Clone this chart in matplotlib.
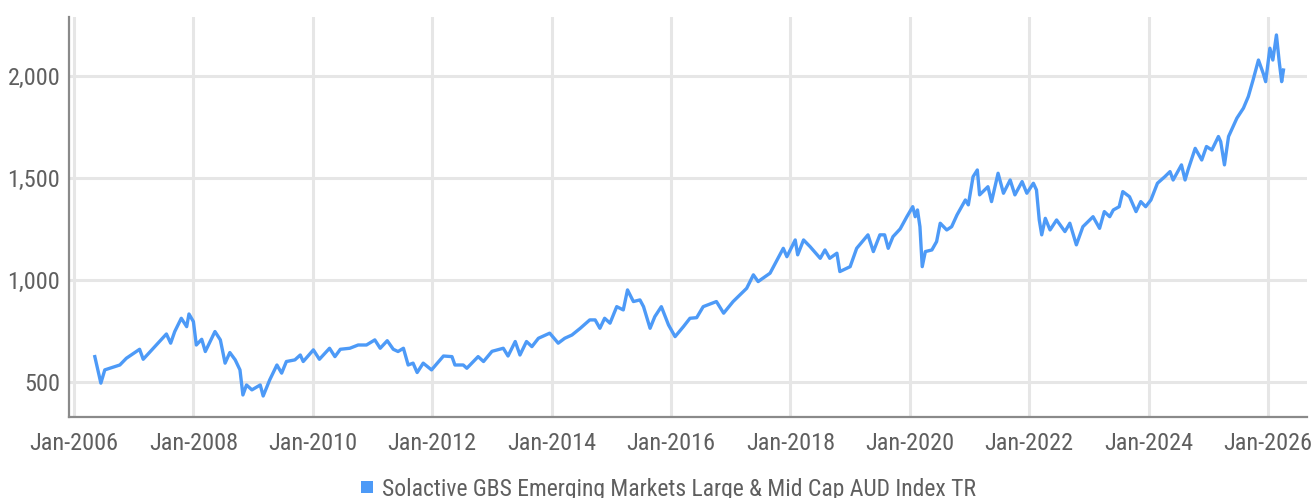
import matplotlib
matplotlib.use("Agg")
import matplotlib.pyplot as plt
import matplotlib.dates as mdates
from matplotlib import font_manager as fm
from matplotlib.lines import Line2D
from matplotlib.ticker import FuncFormatter
import pandas as pd

series_name = "Solactive GBS Emerging Markets Large & Mid Cap AUD Index TR"

dates = [
    "2006-05-08", "2006-06-14", "2006-07-08", "2006-08-07", "2006-10-08", "2006-11-17",
    "2007-02-06", "2007-02-28", "2007-05-19", "2007-07-20", "2007-08-15", "2007-09-09",
    "2007-10-19", "2007-11-21", "2007-12-05", "2008-01-01", "2008-01-19", "2008-02-21",
    "2008-03-14", "2008-05-12", "2008-06-14", "2008-07-13", "2008-08-11", "2008-09-13",
    "2008-10-12", "2008-10-30", "2008-11-21", "2008-12-24", "2009-02-13", "2009-03-03",
    "2009-04-12", "2009-05-26", "2009-06-24", "2009-07-23", "2009-09-13", "2009-10-16",
    "2009-11-03", "2010-01-04", "2010-02-10", "2010-04-13", "2010-05-16", "2010-06-18",
    "2010-08-15", "2010-10-05", "2010-11-25", "2011-01-15", "2011-02-17", "2011-04-01",
    "2011-05-08", "2011-06-06", "2011-07-09", "2011-08-07", "2011-09-06", "2011-10-01",
    "2011-11-07", "2011-12-28", "2012-03-10", "2012-05-01", "2012-05-19", "2012-07-09",
    "2012-07-31", "2012-10-08", "2012-11-10", "2013-01-01", "2013-03-11", "2013-04-09",
    "2013-05-23", "2013-06-21", "2013-07-31", "2013-09-02", "2013-10-12", "2013-12-20",
    "2014-02-10", "2014-03-22", "2014-05-05", "2014-06-25", "2014-08-22", "2014-09-24",
    "2014-10-23", "2014-11-21", "2014-12-24", "2015-02-03", "2015-03-15", "2015-04-10",
    "2015-05-16", "2015-06-25", "2015-07-17", "2015-08-26", "2015-09-24", "2015-11-03",
    "2015-12-17", "2016-01-26", "2016-03-17", "2016-04-26", "2016-06-06", "2016-07-16",
    "2016-10-05", "2016-11-18", "2017-01-15", "2017-04-08", "2017-05-19", "2017-06-17",
    "2017-08-29", "2017-11-18", "2017-12-10", "2018-01-30", "2018-02-14", "2018-03-22",
    "2018-05-01", "2018-07-02", "2018-07-31", "2018-08-29", "2018-10-12", "2018-10-30",
    "2019-01-01", "2019-02-10", "2019-04-20", "2019-05-23", "2019-07-02", "2019-07-31",
    "2019-08-22", "2019-09-20", "2019-11-03", "2019-12-14", "2020-01-19", "2020-02-03",
    "2020-02-17", "2020-03-03", "2020-03-17", "2020-04-05", "2020-05-15", "2020-06-13",
    "2020-07-05", "2020-08-14", "2020-09-13", "2020-10-16", "2020-12-06", "2020-12-24",
    "2021-01-22", "2021-02-17", "2021-03-03", "2021-04-23", "2021-05-15", "2021-06-24",
    "2021-07-27", "2021-09-06", "2021-10-05", "2021-11-18", "2021-12-17", "2022-01-26",
    "2022-02-14", "2022-03-03", "2022-03-18", "2022-04-09", "2022-05-08", "2022-06-17",
    "2022-08-07", "2022-09-06", "2022-10-16", "2022-11-25", "2023-01-26", "2023-03-07",
    "2023-04-05", "2023-05-08", "2023-05-30", "2023-07-05", "2023-07-27", "2023-09-06",
    "2023-10-16", "2023-11-14", "2023-12-14", "2024-01-15", "2024-02-24", "2024-04-09",
    "2024-05-11", "2024-05-30", "2024-07-20", "2024-08-11", "2024-08-29", "2024-10-12",
    "2024-11-21", "2024-12-20", "2025-01-22", "2025-03-03", "2025-03-17", "2025-04-09",
    "2025-05-04", "2025-06-24", "2025-08-03", "2025-09-02", "2025-10-01", "2025-11-03",
    "2025-12-02", "2025-12-17", "2026-01-12", "2026-01-30", "2026-02-21", "2026-03-10",
    "2026-03-25", "2026-04-05",
]

values = [
    624, 494, 559, 567, 583, 616,
    660, 611, 681, 735, 690, 747,
    812, 771, 833, 796, 681, 709,
    649, 747, 706, 592, 644, 608,
    559, 436, 485, 461, 485, 431,
    510, 583, 543, 600, 608, 632,
    600, 657, 611, 665, 624, 660,
    665, 681, 681, 706, 665, 702,
    660, 649, 665, 583, 592, 546,
    592, 559, 627, 624, 583, 583,
    567, 624, 600, 650, 665, 627,
    698, 632, 698, 673, 714, 739,
    690, 714, 730, 763, 804, 804,
    763, 812, 788, 869, 853, 951,
    894, 902, 869, 763, 820, 869,
    779, 722, 771, 812, 815, 869,
    894, 837, 894, 959, 1025, 992,
    1033, 1155, 1114, 1196, 1123, 1196,
    1163, 1106, 1147, 1106, 1131, 1041,
    1065, 1155, 1221, 1139, 1221, 1221,
    1155, 1212, 1250, 1310, 1359, 1310,
    1343, 1261, 1065, 1139, 1147, 1188,
    1278, 1245, 1261, 1319, 1392, 1368,
    1506, 1539, 1417, 1457, 1384, 1523,
    1425, 1490, 1417, 1482, 1425, 1474,
    1441, 1294, 1221, 1302, 1245, 1294,
    1237, 1278, 1172, 1261, 1310, 1253,
    1335, 1310, 1343, 1359, 1433, 1408,
    1335, 1384, 1359, 1392, 1474, 1506,
    1531, 1490, 1564, 1490, 1539, 1645,
    1588, 1654, 1637, 1703, 1678, 1564,
    1703, 1793, 1842, 1899, 1980, 2078,
    2013, 1972, 2136, 2078, 2201, 2070,
    1972, 2029,
]

x_ticks = ["2006-01-01", "2008-01-01", "2010-01-01", "2012-01-01", "2014-01-01",
           "2016-01-01", "2018-01-01", "2020-01-01", "2022-01-01", "2024-01-01",
           "2026-01-01"]
y_ticks = [500, 1000, 1500, 2000]

TEXT_COLOR = "#5f5f5f"
LINE_COLOR = "#4d9af7"


def pick_font(tick_size, legend_size):
    """Prefer a narrow/condensed sans face; fall back to a light Roboto."""
    entries = fm.fontManager.ttflist
    for want in ["Liberation Sans Narrow", "Roboto Condensed", "Open Sans Condensed"]:
        for f in entries:
            if f.name == want and f.style == "normal" and f.weight in (300, 400, "normal", "light"):
                return (fm.FontProperties(fname=f.fname, size=tick_size),
                        fm.FontProperties(fname=f.fname, size=legend_size))
    for f in entries:
        if (f.name == "DejaVu Sans" and "Condensed" in f.fname and "Bold" not in f.fname
                and "Oblique" not in f.fname):
            return (fm.FontProperties(fname=f.fname, size=tick_size - 1),
                    fm.FontProperties(fname=f.fname, size=legend_size - 1))
    return (fm.FontProperties(family=["Roboto", "DejaVu Sans"], weight="light", size=tick_size - 2),
            fm.FontProperties(family=["Roboto", "DejaVu Sans"], weight="light", size=legend_size - 2))


fp_tick, fp_leg = pick_font(17.5, 17)

fig = plt.figure(figsize=(13.14, 4.98), dpi=100)
ax = fig.add_axes([68.5 / 1314, 1 - 417 / 498, (1307 - 68.5) / 1314, (417 - 17) / 498])

ax.plot(pd.to_datetime(dates), values, color=LINE_COLOR, linewidth=2.4,
        solid_joinstyle="round", zorder=3)

ax.set_xlim(pd.Timestamp("2005-11-28"), pd.Timestamp("2026-08-27"))
ax.set_ylim(328, 2289)
ax.set_xticks(pd.to_datetime(x_ticks))
ax.xaxis.set_major_formatter(mdates.DateFormatter("%b-%Y"))
ax.set_yticks(y_ticks)
ax.yaxis.set_major_formatter(FuncFormatter(lambda v, p: f"{v:,.0f}"))

ax.grid(True, color="#e6e6e6", linewidth=2.2, zorder=0)
ax.set_axisbelow(True)
for s in ["top", "right"]:
    ax.spines[s].set_visible(False)
for s in ["left", "bottom"]:
    ax.spines[s].set_color("#8a8a8a")
    ax.spines[s].set_linewidth(1.6)

ax.tick_params(axis="both", length=0, labelcolor=TEXT_COLOR)
ax.tick_params(axis="x", pad=11)
ax.tick_params(axis="y", pad=6)
for lbl in ax.get_xticklabels() + ax.get_yticklabels():
    lbl.set_fontproperties(fp_tick)

handle = Line2D([], [], marker="s", linestyle="none", markersize=8,
                color=LINE_COLOR, markeredgewidth=0)
leg = fig.legend([handle], [series_name], loc="center",
                 bbox_to_anchor=(668 / 1314, 1 - 489 / 498), frameon=False,
                 prop=fp_leg, handlelength=0.6, handletextpad=0.3,
                 borderaxespad=0, borderpad=0)
for t in leg.get_texts():
    t.set_color(TEXT_COLOR)

fig.savefig("out.png", dpi=100)
